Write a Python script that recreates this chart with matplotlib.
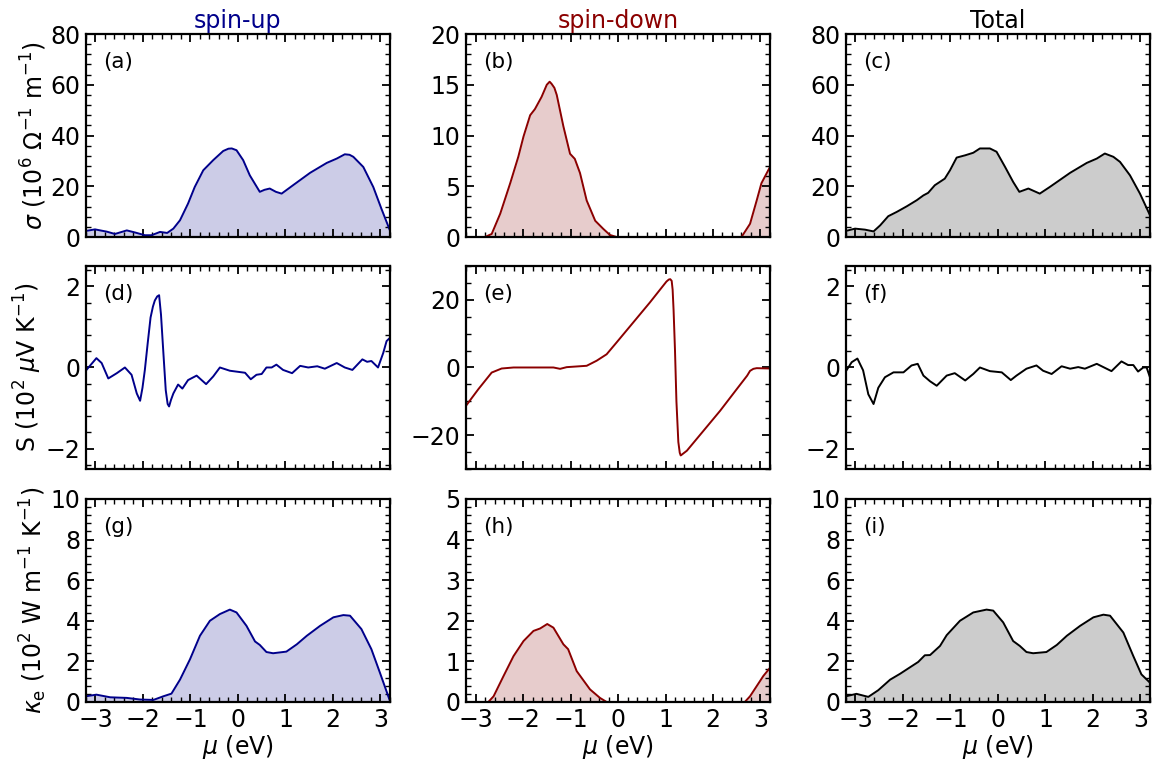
import matplotlib
matplotlib.use("Agg")
import matplotlib.pyplot as plt
from matplotlib.ticker import MultipleLocator

# ---- data (mu in eV) ----
# sigma, spin-up (10^6 Ohm^-1 m^-1)
mu_sig_up = [-3.2, -3.01, -2.76, -2.59, -2.34, -2.17, -1.96, -1.82, -1.64, -1.49, -1.36, -1.22,
             -1.05, -0.91, -0.73, -0.52, -0.31, -0.2, -0.13, -0.03, 0.11, 0.25, 0.46, 0.56, 0.67, 0.8, 0.92,
             1.16, 1.52, 1.87, 2.08, 2.25, 2.35, 2.43, 2.64, 2.85, 3.02, 3.2]
sig_up = [2.4, 3.0, 2.1, 1.2, 2.6, 1.8, 0.7, 0.7, 2.0, 1.6, 3.3, 6.6,
          13.2, 19.7, 26.3, 30.3, 33.9, 34.8, 34.9, 34.2, 30.3, 24.3, 17.8, 18.6, 19.1, 17.8, 17.1,
          20.4, 25.3, 29.2, 30.9, 32.6, 32.4, 31.6, 27.6, 19.7, 11.2, 2.6]

# sigma, spin-down
mu_sig_dn = [-3.2, -2.8, -2.66, -2.48, -2.27, -2.10, -1.99, -1.85, -1.75, -1.61, -1.50, -1.44, -1.40,
             -1.34, -1.29, -1.15, -1.01, -0.91, -0.80, -0.66, -0.48, -0.31, -0.17, -0.03, 2.60, 2.78,
             2.92, 3.02, 3.2]
sig_dn = [0.0, 0.0, 0.3, 2.3, 5.3, 7.9, 9.9, 12.0, 12.6, 13.8, 15.0, 15.3, 15.1,
          14.7, 14.0, 10.9, 8.2, 7.7, 6.3, 3.6, 1.6, 0.8, 0.2, 0.0, 0.0, 1.3,
          3.6, 5.3, 6.9]

# sigma, total
mu_sig_tot = [-3.2, -3.01, -2.8, -2.62, -2.48, -2.31, -2.13, -1.92, -1.71, -1.57, -1.47, -1.33,
              -1.12, -1.01, -0.87, -0.69, -0.52, -0.38, -0.17, -0.03, 0.15, 0.32, 0.45, 0.64,
              0.88, 1.09, 1.52, 1.87, 2.08, 2.25, 2.43, 2.57, 2.78, 2.99, 3.2]
sig_tot = [2.4, 3.3, 2.9, 2.2, 4.6, 8.2, 9.9, 12.1, 14.5, 16.4, 17.4, 20.4,
           23.0, 26.3, 31.3, 32.2, 33.2, 34.9, 34.9, 33.6, 27.6, 21.7, 17.8, 19.1,
           17.1, 19.7, 25.3, 29.2, 30.9, 32.9, 31.6, 29.6, 24.3, 17.1, 8.6]

# Seebeck, spin-up (10^2 uV K^-1)
mu_S_up = [-3.19, -2.98, -2.87, -2.73, -2.55, -2.38, -2.24, -2.13, -2.06, -2.01, -1.96, -1.90,
           -1.84, -1.79, -1.75, -1.70, -1.66, -1.62, -1.57, -1.52, -1.48, -1.45, -1.41, -1.36,
           -1.26, -1.17, -1.05, -0.87, -0.67, -0.52, -0.38,
           -0.17, 0.15, 0.27, 0.39, 0.50, 0.60, 0.71, 0.81, 0.95, 1.14, 1.31, 1.48,
           1.67, 1.83, 2.08, 2.25, 2.41, 2.62, 2.72, 2.81, 2.95, 3.06, 3.13, 3.2]
S_up = [-0.06, 0.23, 0.11, -0.27, -0.14, 0.0, -0.18, -0.64, -0.82, -0.5, -0.06, 0.6,
        1.23, 1.5, 1.65, 1.75, 1.78, 1.3, 0.36, -0.56, -0.9, -0.96, -0.8, -0.64,
        -0.42, -0.52, -0.31, -0.2, -0.41, -0.22, 0.0,
        -0.08, -0.13, -0.29, -0.18, -0.16, 0.0, 0.0, 0.07, -0.06, -0.14, 0.04, 0.0,
        0.03, -0.03, 0.11, 0.0, -0.06, 0.2, 0.14, 0.16, 0.0, 0.36, 0.65, 0.73]

# Seebeck, spin-down
mu_S_dn = [-3.2, -2.94, -2.66, -2.45, -2.2, -1.36, -1.22, -1.08, -0.66, -0.45, -0.24, -0.03,
           0.32, 0.67, 1.02, 1.07, 1.10, 1.13, 1.15, 1.17, 1.20, 1.23, 1.27, 1.30, 1.32, 1.34, 1.45,
           1.80, 2.15, 2.50, 2.72, 2.78, 2.85, 2.92, 3.2]
S_dn = [-11.3, -6.4, -1.5, -0.3, 0.0, 0.0, -0.4, 0.1, 0.5, 2.0, 3.9, 7.4,
        13.3, 19.2, 25.4, 26.0, 26.1, 25.6, 23.0, 17.0, 5.0, -10.0, -22.0, -25.2, -26.0, -25.8, -24.6,
        -18.7, -12.8, -6.4, -2.4, -1.0, -0.4, -0.2, -0.3]

# Seebeck, total
mu_S_tot = [-3.19, -3.08, -2.96, -2.84, -2.73, -2.62, -2.52, -2.38, -2.2, -1.99, -1.82, -1.69,
            -1.57, -1.43, -1.29, -1.08, -0.91, -0.69, -0.52, -0.38, -0.17, 0.08, 0.27, 0.39,
            0.60, 0.81, 0.95, 1.13, 1.34, 1.52, 1.69, 1.83, 2.08, 2.39, 2.60, 2.74,
            2.85, 2.95, 3.06, 3.13, 3.2]
S_tot = [-0.07, 0.13, 0.22, -0.07, -0.66, -0.9, -0.5, -0.24, -0.12, -0.12, 0.05, 0.09,
         -0.2, -0.34, -0.45, -0.2, -0.14, -0.32, -0.16, 0.0, -0.09, -0.12, -0.31, -0.2,
         -0.03, 0.05, -0.08, -0.16, 0.03, -0.03, 0.01, -0.03, 0.09, -0.09, 0.15, 0.06,
         0.06, -0.1, 0.0, 0.0, -0.24]

# electronic thermal conductivity, spin-up (10^2 W m^-1 K^-1)
mu_k_up = [-3.2, -2.98, -2.69, -2.34, -2.06, -1.78, -1.57, -1.40, -1.22, -1.01, -0.8, -0.59,
           -0.38, -0.17, -0.03, 0.18, 0.36, 0.46, 0.60, 0.74, 1.02, 1.24, 1.45, 1.73,
           2.01, 2.22, 2.36, 2.60, 2.81, 2.99, 3.19]
k_up = [0.28, 0.36, 0.23, 0.2, 0.12, 0.1, 0.28, 0.41, 1.1, 2.1, 3.26, 4.0,
        4.33, 4.55, 4.41, 3.75, 2.98, 2.81, 2.46, 2.4, 2.48, 2.84, 3.26, 3.75,
        4.17, 4.28, 4.25, 3.59, 2.6, 1.44, 0.12]

# kappa, spin-down
mu_k_dn = [-3.2, -2.73, -2.62, -2.41, -2.2, -1.99, -1.78, -1.64, -1.49, -1.36, -1.15, -1.05,
           -0.87, -0.59, -0.38, -0.24, 2.67, 2.78, 2.92, 3.06, 3.2]
k_dn = [0.0, 0.0, 0.14, 0.64, 1.13, 1.5, 1.75, 1.81, 1.92, 1.83, 1.42, 1.3,
        0.76, 0.31, 0.1, 0.0, 0.0, 0.14, 0.39, 0.64, 0.84]

# kappa, total
mu_k_tot = [-3.2, -2.98, -2.73, -2.52, -2.27, -2.06, -1.89, -1.68, -1.54, -1.43, -1.22, -1.08,
            -0.8, -0.52, -0.24, -0.1, 0.11, 0.32, 0.46, 0.6, 0.74, 1.02, 1.24, 1.45,
            1.73, 2.01, 2.22, 2.36, 2.64, 2.85, 3.02, 3.2]
k_tot = [0.28, 0.4, 0.25, 0.58, 1.1, 1.39, 1.65, 1.97, 2.3, 2.31, 2.76, 3.29,
         4.0, 4.41, 4.55, 4.5, 3.92, 3.0, 2.76, 2.46, 2.4, 2.46, 2.81, 3.26,
         3.75, 4.17, 4.3, 4.25, 3.42, 2.26, 1.36, 0.95]

titles = ['spin-up', 'spin-down', 'Total']
colors = ['darkblue', 'darkred', 'black']
panel_tags = ['(a)', '(b)', '(c)', '(d)', '(e)', '(f)', '(g)', '(h)', '(i)']
ylabels = [r'$\sigma$ (10$^6$ $\Omega^{-1}$ m$^{-1}$)',
           r'S (10$^2$ $\mu$V K$^{-1}$)',
           r'$\kappa_{\rm e}$ (10$^2$ W m$^{-1}$ K$^{-1}$)']

rows = [
    [(mu_sig_up, sig_up), (mu_sig_dn, sig_dn), (mu_sig_tot, sig_tot)],
    [(mu_S_up, S_up), (mu_S_dn, S_dn), (mu_S_tot, S_tot)],
    [(mu_k_up, k_up), (mu_k_dn, k_dn), (mu_k_tot, k_tot)],
]
# (ylim, major, minor) per panel
yaxes = [
    [((0, 80), 20, 4), ((0, 20), 5, 1), ((0, 80), 20, 4)],
    [((-2.5, 2.5), 2, 0.4), ((-30, 30), 20, 5), ((-2.5, 2.5), 2, 0.4)],
    [((0, 10), 2, 0.4), ((0, 5), 1, 0.2), ((0, 10), 2, 0.4)],
]
filled = [True, False, True]

FS = 17
plt.rcParams['font.size'] = FS
plt.rcParams['mathtext.fontset'] = 'dejavusans'

fig = plt.figure(figsize=(11.57, 7.73), dpi=100)
lefts = [0.0743, 0.4028, 0.7312]
bottoms = [0.6934, 0.3933, 0.0919]
w, h = 0.2627, 0.2626

for r in range(3):
    for c in range(3):
        ax = fig.add_axes([lefts[c], bottoms[r], w, h])
        x, y = rows[r][c]
        ax.plot(x, y, color=colors[c], lw=1.4)
        if filled[r]:
            ax.fill_between(x, 0, y, color=colors[c], alpha=0.2, lw=0)
        ax.set_xlim(-3.2, 3.2)
        lim, maj, mnr = yaxes[r][c]
        ax.set_ylim(*lim)
        ax.xaxis.set_major_locator(MultipleLocator(1))
        ax.xaxis.set_minor_locator(MultipleLocator(0.2))
        ax.yaxis.set_major_locator(MultipleLocator(maj))
        ax.yaxis.set_minor_locator(MultipleLocator(mnr))
        ax.tick_params(which='both', direction='in', top=True, right=True, labelsize=FS)
        ax.tick_params(which='major', length=6, width=1.3, pad=4)
        ax.tick_params(which='minor', length=3.5, width=1.0)
        for s in ax.spines.values():
            s.set_linewidth(1.6)
        ax.text(0.055, 0.86, panel_tags[r * 3 + c], transform=ax.transAxes,
                ha='left', va='center', fontsize=15.5)
        if r == 0:
            ax.set_title(titles[c], color=colors[c], fontsize=FS, pad=4)
        if r == 2:
            ax.set_xlabel(r'$\mu$ (eV)', fontsize=FS, labelpad=1)
        else:
            ax.set_xticklabels([])
        if c == 0:
            ax.set_ylabel(ylabels[r], fontsize=FS, labelpad=1)

plt.savefig('out.png', dpi=100)
